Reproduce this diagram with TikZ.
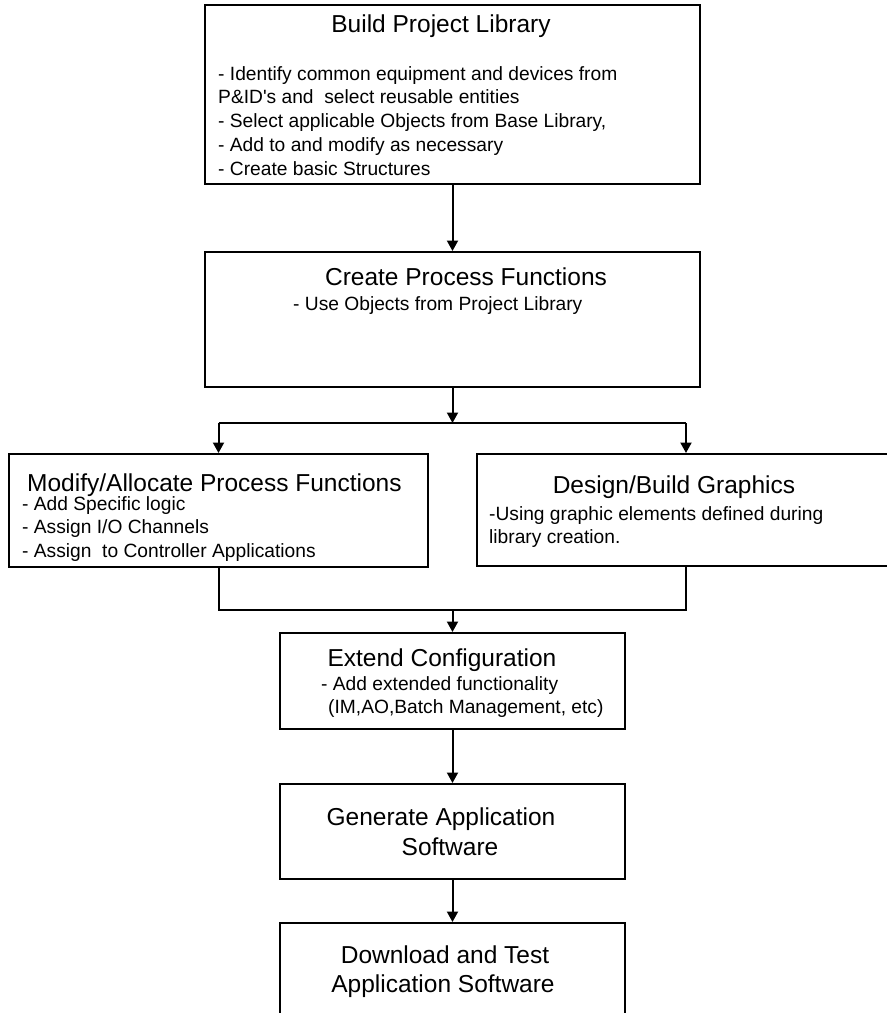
\documentclass[tikz,border=0pt]{standalone}
\usepackage{fontspec}
\newfontfamily\arialf{Liberation Sans}
\usetikzlibrary{arrows.meta}
\begin{document}
\begin{tikzpicture}[x=1pt,y=-1pt,
  box/.style={draw, line width=2pt, rectangle, inner sep=0pt},
  conn/.style={line width=2pt},
  arr/.style={conn, -{Triangle[length=10.5pt,width=11pt]}},
  ttl/.style={font=\arialf\fontsize{24.5}{30}\selectfont, inner sep=0pt, anchor=base},
  txt/.style={font=\arialf\fontsize{19.2}{23.5}\selectfont, inner sep=0pt, anchor=base west},
]
\useasboundingbox (0,0) rectangle (887,1013);
\clip (0,0) rectangle (887,1013);

% process boxes
\node[box, minimum width=495pt, minimum height=179pt] (b1) at (452.5,94.5) {};
\node[box, minimum width=495pt, minimum height=135pt] (b2) at (452.5,319.5) {};
\node[box, minimum width=419pt, minimum height=113pt] (b3) at (218.5,510.5) {};
\node[box, minimum width=418pt, minimum height=112pt] (b4) at (686,510) {};
\node[box, minimum width=345pt, minimum height=96pt] (b5) at (452.5,681) {};
\node[box, minimum width=345pt, minimum height=95pt] (b6) at (452.5,831.5) {};
\node[box, minimum width=345pt, minimum height=117pt] (b7) at (452.5,981.5) {};

% Build Project Library
\node[ttl] (t1) at (441,32) {Build Project Library};
\node[txt] (t1a) at (218,80) {- Identify common equipment and devices from};
\node[txt] (t1b) at (218,103.7) {P\&ID's and~ select reusable entities};
\node[txt] (t1c) at (218,127.5) {- Select applicable Objects from Base Library,};
\node[txt] (t1d) at (218,151.2) {- Add to and modify as necessary};
\node[txt] (t1e) at (218,175) {- Create basic Structures};

% Create Process Functions
\node[ttl] (t2) at (466,285) {Create Process Functions};
\node[txt] (t2a) at (293,310) {- Use Objects from Project Library};

% Modify/Allocate Process Functions
\node[ttl, anchor=base west] (t3) at (27,491) {Modify/Allocate Process Functions};
\node[txt] (t3a) at (22,510) {- Add Specific logic};
\node[txt] (t3b) at (22,533.5) {- Assign I/O Channels};
\node[txt] (t3c) at (22,557) {- Assign~ to Controller Applications};

% Design/Build Graphics
\node[ttl] (t4) at (674,493) {Design/Build Graphics};
\node[txt] (t4a) at (489,520) {-Using graphic elements defined during};
\node[txt] (t4b) at (489,543) {library creation.};

% Extend Configuration
\node[ttl] (t5) at (442,666) {Extend Configuration};
\node[txt] (t5a) at (321,690) {- Add extended functionality};
\node[txt] (t5b) at (328,713) {(IM,AO,Batch Management, etc)};

% Generate Application Software
\node[ttl] (t6a) at (441,825) {Generate Application};
\node[ttl] (t6b) at (450,855) {Software};

% Download and Test Application Software
\node[ttl] (t7a) at (445,963) {Download and Test};
\node[ttl] (t7b) at (443,992) {Application Software};

% connectors
\coordinate (split) at (452.5,423);
\coordinate (merge) at (452.5,610);
\draw[arr] (b1.south) -- (b2.north);
\draw[arr] (b2.south) -- (split);
\draw[conn] (b3.north |- split) -- (b4.north |- split);
\draw[arr] (b3.north |- split) -- (b3.north);
\draw[arr] (b4.north |- split) -- (b4.north);
\draw[conn] (b3.south) -- (b3.south |- merge) -- (b4.south |- merge) -- (b4.south);
\draw[arr] (merge) -- (b5.north);
\draw[arr] (b5.south) -- (b6.north);
\draw[arr] (b6.south) -- (b7.north);
\end{tikzpicture}
\end{document}
